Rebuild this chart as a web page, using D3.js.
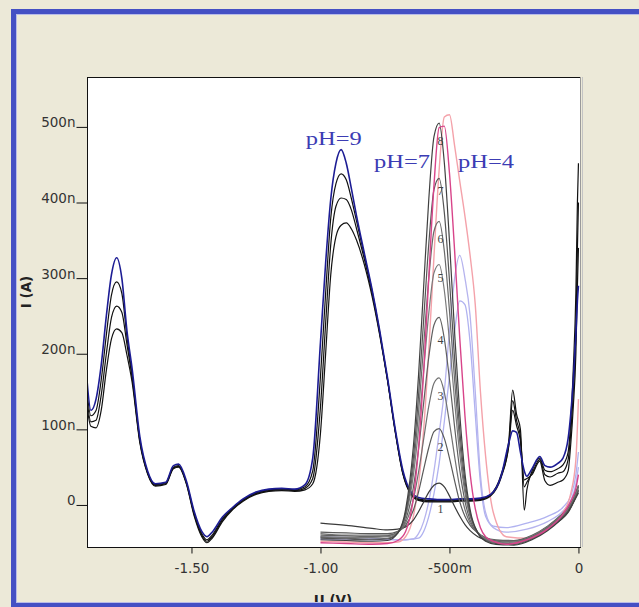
<!DOCTYPE html>
<html><head><meta charset="utf-8">
<script src="https://cdn.jsdelivr.net/npm/d3@7"></script>
<style>html,body{margin:0;padding:0;background:#ECE9D8;overflow:hidden}svg{display:block}</style>
</head><body><svg id="c" width="639" height="607"></svg>
<script>
// ---------- data (potential in V, current in nA) ----------
const xs9 = [-1.905,-1.89,-1.87,-1.85,-1.83,-1.81,-1.79,-1.77,-1.75,-1.73,-1.70,-1.67,-1.64,-1.60,-1.57,-1.55,-1.52,-1.49,-1.46,-1.44,-1.42,-1.38,-1.34,-1.30,-1.25,-1.20,-1.15,-1.10,-1.06,-1.03,-1.00,-0.98,-0.96,-0.94,-0.92,-0.90,-0.88,-0.86,-0.83,-0.80,-0.77,-0.74,-0.71,-0.68,-0.65,-0.62,-0.58,-0.54,-0.50,-0.46,-0.42,-0.38,-0.34,-0.30,-0.27,-0.255,-0.24,-0.225,-0.21,-0.20,-0.18,-0.15,-0.13,-0.11,-0.08,-0.06,-0.04,-0.03,-0.02,-0.01,-0.004,0];
const blue9 = [165,125,140,185,250,305,327,300,230,180,90,45,28,30,52,54,32,-8,-35,-42,-36,-16,-3,8,17,21,22,21,27,62,215,320,405,452,470,452,418,382,333,285,230,168,100,45,18,10,8,7,7,8,8,9,14,38,82,98,96,70,45,38,48,64,52,50,55,62,88,120,165,225,270,290];
const black9a = [150,118,125,165,225,278,295,280,222,172,86,43,27,29,50,52,30,-10,-38,-46,-40,-18,-4,7,16,20,21,20,24,45,170,280,380,425,438,430,405,375,330,283,228,166,98,42,16,8,6,6,6,7,7,8,14,40,85,152,120,100,-7,20,45,62,46,44,48,53,70,110,180,280,400,452];
const black9b = [140,110,112,145,200,248,263,255,212,168,84,42,26,28,49,51,29,-12,-40,-48,-42,-20,-5,6,15,19,20,19,22,35,130,240,345,395,406,404,390,365,325,280,226,165,97,41,15,7,5,5,5,6,6,7,13,38,80,138,112,90,24,30,42,60,40,37,42,44,60,95,150,230,340,400];
const black9c = [130,104,102,125,178,220,233,228,198,162,82,41,25,27,48,50,28,-14,-42,-50,-44,-22,-6,5,14,18,19,18,20,28,95,200,305,355,370,373,365,350,318,276,224,164,96,40,14,6,4,4,4,5,5,6,12,36,78,125,105,85,33,35,40,58,32,26,30,33,45,80,130,200,290,340];

const xs7 = [-1.00,-0.90,-0.80,-0.74,-0.70,-0.67,-0.64,-0.62,-0.60,-0.58,-0.56,-0.54,-0.52,-0.50,-0.48,-0.46,-0.44,-0.42,-0.39,-0.36,-0.32,-0.25,-0.18,-0.12,-0.07,-0.04,-0.02,0];
const ph7c1 = [-24,-27,-31,-33,-32,-29,-20,-9,4,17,26,29,24,12,-2,-15,-26,-34,-42,-46,-47,-47,-42,-32,-20,-10,3,20];
const ph7c2 = [-36,-37,-38,-38,-35,-27,-7,17,47,76,97,101,88,62,32,4,-15,-27,-37,-43,-46,-47,-40,-28,-14,-3,9,26];
const ph7c3 = [-38,-40,-40,-40,-36,-24,7,43,87,131,161,168,149,109,64,23,-6,-24,-37,-44,-47,-48,-41,-29,-15,-4,8,25];
const ph7c4 = [-40,-41,-42,-41,-36,-20,23,73,135,196,238,248,220,166,103,46,5,-20,-37,-44,-48,-49,-42,-30,-16,-5,7,24];
const ph7c5 = [-42,-43,-43,-42,-36,-15,39,100,177,254,307,318,284,217,137,67,16,-15,-36,-45,-49,-50,-43,-31,-17,-6,6,22];
const ph7c6 = [-43,-44,-45,-44,-37,-13,50,122,211,300,362,375,336,257,165,83,23,-13,-37,-46,-50,-51,-44,-32,-18,-7,5,20];
const ph7c7 = [-44,-45,-46,-45,-37,-10,62,144,245,346,417,432,387,297,193,99,32,-10,-37,-47,-51,-52,-45,-33,-19,-8,4,18];
const ph7c8 = [-46,-47,-48,-47,-37,-6,77,171,289,405,487,505,453,349,228,120,42,-6,-37,-48,-52,-53,-46,-34,-20,-9,3,16];
const ph7Names = ["1","2","3","4","5","6","7","8"];
const ph7LabelX = -0.535;
const ph7LabelY = [-7,75,143,216,298,350,413,480];

const xs4 = [-1.00,-0.90,-0.80,-0.74,-0.70,-0.67,-0.64,-0.62,-0.60,-0.58,-0.56,-0.54,-0.52,-0.50,-0.48,-0.46,-0.44,-0.42,-0.40,-0.38,-0.36,-0.33,-0.28,-0.20,-0.12,-0.06,-0.03,-0.01,0];
const ph4Light = [-48,-49,-50,-50,-49,-42,-15,27,100,205,329,443,513,516,475,428,382,330,265,150,65,-10,-42,-44,-32,-10,15,60,140];
const ph4Hot = [-50,-51,-52,-51,-47,-35,9,75,176,302,423,499,501,439,336,220,118,42,-5,-30,-42,-48,-52,-46,-32,-12,5,22,40];
const ph4Lav1 = [-42,-43,-44,-45,-46,-46,-45,-44,-35,-15,15,55,110,170,230,270,265,215,120,30,-15,-28,-30,-24,-15,-3,12,40,70];
const ph4Lav2 = [-45,-45,-46,-46,-46,-46,-45,-38,-22,5,45,95,150,230,300,330,300,250,150,40,-10,-30,-36,-32,-22,-8,6,28,50];

const xTickValues = [-1.5,-1.0,-0.5,0];
const xTickLabels = ["-1.50","-1.00","-500m","0"];
const yTickValues = [0,100,200,300,400,500];
const yTickLabels = ["0","100n","200n","300n","400n","500n"];
const phTexts = ["pH=9","pH=7","pH=4"];

// ---------- drawing ----------
const svg = d3.select("#c");
const L = 87, R = 580, T = 77, B = 547;
const x = d3.scaleLinear().domain([-1.905, 0.006]).range([L, R]);
const y = d3.scaleLinear().domain([-55.6, 566]).range([B, T]);

svg.append("rect").attr("width",639).attr("height",607).attr("fill","#ECE9D8");
svg.append("rect").attr("x",L).attr("y",T).attr("width",R-L).attr("height",B-T).attr("fill","#fff");

svg.append("defs").append("clipPath").attr("id","pc")
  .append("rect").attr("x",L+1).attr("y",T+1).attr("width",R-L+2).attr("height",B-T-1);

const g = svg.append("g").attr("clip-path","url(#pc)");
const line = d3.line().x(d=>x(d[0])).y(d=>y(d[1])).curve(d3.curveMonotoneX);
function draw(xs, ys, color, w){
  g.append("path").datum(xs.map((v,i)=>[v, ys[i]]))
   .attr("d", line).attr("fill","none").attr("stroke",color)
   .attr("stroke-width",w).attr("stroke-linejoin","round");
}
draw(xs4, ph4Lav1, "#b0b2f0", 1.3);
draw(xs4, ph4Lav2, "#b6b4ee", 1.3);
draw(xs4, ph4Light, "#f4a2aa", 1.4);
draw(xs9, black9c, "#111", 1.2);
draw(xs9, black9b, "#111", 1.2);
draw(xs9, black9a, "#111", 1.2);
draw(xs9, blue9, "#1c1c94", 1.6);
const greyCols = ["#3a3a3a","#5a5a5a","#707070","#606060","#7a7a7a","#6a6a6a","#555","#404040"];
[ph7c1,ph7c2,ph7c3,ph7c4,ph7c5,ph7c6,ph7c7,ph7c8].forEach((c,i)=>draw(xs7, c, greyCols[i], 1.2));
draw(xs4, ph4Hot, "#d8448a", 1.4);

// numbered labels
g.selectAll("text.num").data(ph7Names).join("text")
  .attr("x", x(ph7LabelX)).attr("y",(d,i)=>y(ph7LabelY[i]))
  .attr("text-anchor","middle").attr("dominant-baseline","middle")
  .attr("font-family","Liberation Serif, serif").attr("font-size",12)
  .attr("fill","#444").text(d=>d);

// pH labels
const phPos = [[-0.948,476],[-0.684,446],[-0.358,446]];
svg.selectAll("text.ph").data(phTexts).join("text")
  .attr("x",(d,i)=>x(phPos[i][0])).attr("y",(d,i)=>y(phPos[i][1]))
  .attr("text-anchor","middle").attr("font-family","Liberation Serif, serif")
  .attr("font-size",19).attr("fill","#3c3cb4")
  .attr("textLength",56).attr("lengthAdjust","spacingAndGlyphs").text(d=>d);

// frame
svg.append("line").attr("x1",L).attr("x2",R).attr("y1",T+0.5).attr("y2",T+0.5).attr("stroke","#111");
svg.append("line").attr("x1",R+0.5).attr("x2",R+0.5).attr("y1",T).attr("y2",B).attr("stroke","#9a9a9a");
svg.append("line").attr("x1",R+2.5).attr("x2",R+2.5).attr("y1",T).attr("y2",B).attr("stroke","#c4c4c4");

// axes
const xa = svg.append("g").attr("transform",`translate(0,${B+0.5})`)
  .call(d3.axisBottom(x).tickValues(xTickValues).tickFormat((d,i)=>xTickLabels[i]).tickSize(6).tickPadding(10));
xa.select(".domain").attr("stroke","#111").attr("d",`M${L},0H${R+1}`);
xa.selectAll("line").attr("stroke","#111");
xa.selectAll("text").attr("font-family","DejaVu Sans, sans-serif").attr("font-size",13.5).attr("fill","#333");

const ya = svg.append("g").attr("transform",`translate(${L+0.5},0)`)
  .call(d3.axisLeft(y).tickValues(yTickValues).tickFormat((d,i)=>yTickLabels[i]).tickSize(11).tickPadding(1));
ya.select(".domain").attr("stroke","#111").attr("d",`M0,${T}V${B}`);
ya.selectAll("line").attr("stroke","#111");
ya.selectAll("text").attr("dy","0").attr("font-family","DejaVu Sans, sans-serif").attr("font-size",13.5).attr("fill","#333");

// axis titles
svg.append("text").attr("transform","translate(31,292) rotate(-90)")
  .attr("text-anchor","middle").attr("font-family","DejaVu Sans, sans-serif")
  .attr("font-weight","bold").attr("font-size",13.5).attr("fill","#222").text("I (A)");
svg.append("text").attr("x",333).attr("y",605)
  .attr("text-anchor","middle").attr("font-family","DejaVu Sans, sans-serif")
  .attr("font-weight","bold").attr("font-size",13.5).attr("fill","#222").text("U (V)");

// window border
svg.append("rect").attr("x",13.5).attr("y",11.5).attr("width",700).attr("height",594)
  .attr("fill","none").attr("stroke","#4450c4").attr("stroke-width",5);
svg.append("rect").attr("x",16.5).attr("y",14.5).attr("width",700).attr("height",588)
  .attr("fill","none").attr("stroke","#b8bce8").attr("stroke-width",1);
</script></body></html>
